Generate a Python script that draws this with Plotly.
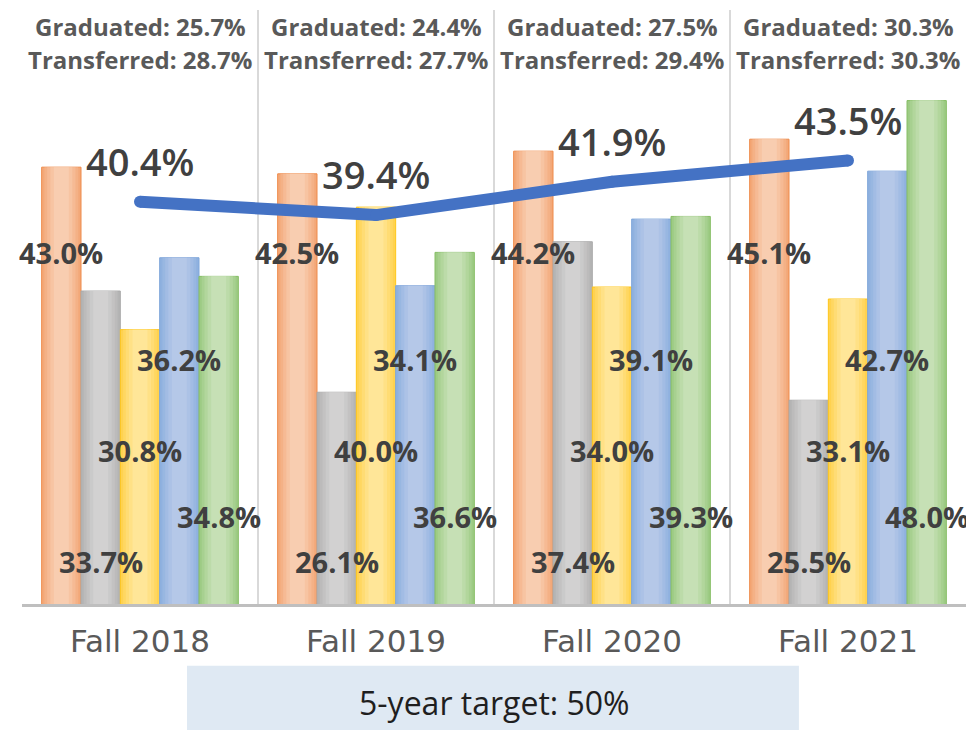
import plotly.graph_objects as go

# values
terms = ["Fall 2018", "Fall 2019", "Fall 2020", "Fall 2021"]
orange_vals = [43.0, 42.5, 44.2, 45.1]
gray_vals = [33.7, 26.1, 37.4, 25.5]
yellow_vals = [30.8, 40.0, 34.0, 33.1]
blue_vals = [36.2, 34.1, 39.1, 42.7]
green_vals = [34.8, 36.6, 39.3, 48.0]
overall = [40.4, 39.4, 41.9, 43.5]
graduated = [25.7, 24.4, 27.5, 30.3]
transferred = [28.7, 27.7, 29.4, 30.3]
target_text = "5-year target: 50%"

FONT = "Open Sans"

# (values, edge colour, centre colour, outline, label height in paper units)
series = [
    (orange_vals, "#F3A878", "#F8CDB0", "#EE8A4A", 0.591),
    (gray_vals, "#B4B4B4", "#D2D1D1", "#ABABAB", 0.071),
    (yellow_vals, "#FFD24F", "#FFE698", "#FFC61A", 0.259),
    (blue_vals, "#8FB1DF", "#B5C8E8", "#7FA6DA", 0.411),
    (green_vals, "#9DCB84", "#C6E0B5", "#86BE65", 0.148),
]


def mix(c1, c2, t):
    a = [int(c1[i:i + 2], 16) for i in (1, 3, 5)]
    b = [int(c2[i:i + 2], 16) for i in (1, 3, 5)]
    return "#%02x%02x%02x" % tuple(round(a[k] + (b[k] - a[k]) * t) for k in range(3))


bw = 1 / 6  # bar width in category units
layers = [1.0, 0.86, 0.72, 0.56, 0.38]

fig = go.Figure()

for i, (vals, edge, centre, outline, _) in enumerate(series):
    off = -2.5 * bw + i * bw
    for k, f in enumerate(layers):
        fig.add_trace(go.Bar(
            x=terms, y=vals,
            width=bw * f, offset=off + bw * (1 - f) / 2,
            marker_color=mix(edge, centre, k / (len(layers) - 1)),
            marker_line_width=1 if k == 0 else 0,
            marker_line_color=outline,
            hoverinfo="skip" if k else None,
        ))

fig.add_trace(go.Scatter(
    x=terms, y=overall, mode="lines+markers",
    line=dict(color="#4472C4", width=12),
    marker=dict(color="#4472C4", size=12),
))

ann = []
px_per_bar = 944 / 4 / 6
for i, (vals, _, _, _, ly) in enumerate(series):
    for t, v in zip(terms, vals):
        ann.append(dict(x=t, y=ly, xref="x", yref="paper", xshift=(i - 2) * px_per_bar,
                        yanchor="middle", text=f"{v:.1f}%", showarrow=False,
                        font=dict(family=FONT, size=29, color="#404040", weight=700)))

for t, v in zip(terms, overall):
    ann.append(dict(x=t, y=v, xref="x", yref="y", yshift=41, yanchor="middle",
                    text=f"{v:.1f}%", showarrow=False,
                    font=dict(family=FONT, size=38, color="#404040", weight=600)))

for t, g, tr in zip(terms, graduated, transferred):
    ann.append(dict(x=t, y=0.973, xref="x", yref="paper", yanchor="middle",
                    text=f"Graduated: {g:.1f}%", showarrow=False,
                    font=dict(family=FONT, size=24, color="#595959", weight=700)))
    ann.append(dict(x=t, y=0.916, xref="x", yref="paper", yanchor="middle",
                    text=f"Transferred: {tr:.1f}%", showarrow=False,
                    font=dict(family=FONT, size=24, color="#595959", weight=700)))

ann.append(dict(x=0.5, y=-0.166, xref="paper", yref="paper", yanchor="middle",
                text=target_text, showarrow=False,
                font=dict(family=FONT, size=32, color="#1F1F1F")))

# page body adds 8px, so the figure is placed to land on the same pixels
fig.update_layout(
    width=966, height=730,
    margin=dict(l=14, r=8, t=2, b=134),
    barmode="overlay",
    showlegend=False,
    plot_bgcolor="white", paper_bgcolor="white",
    annotations=ann,
    shapes=[dict(type="rect", xref="paper", yref="paper",
                 x0=0.1748, x1=0.823, y0=-0.104, y1=-0.240,
                 fillcolor="#DFE9F3", line_width=0, layer="below")],
)
fig.update_xaxes(
    type="category", range=[-0.5, 3.5],
    showgrid=True, tickson="boundaries", gridcolor="#D9D9D9", gridwidth=2,
    showline=True, linecolor="#BFBFBF", linewidth=3, ticks="",
    ticklabelstandoff=8,
    tickfont=dict(family="DejaVu Sans", size=31, color="#595959"),
)
fig.update_yaxes(range=[10.2, 54.8], visible=False)

fig.write_html("out.html")
